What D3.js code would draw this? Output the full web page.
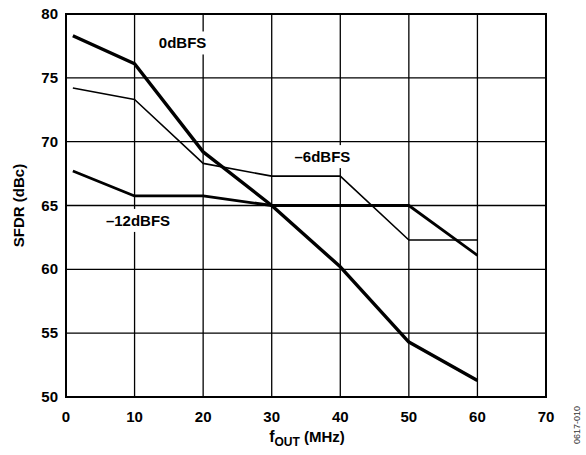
<!DOCTYPE html>
<html>
<head>
<meta charset="utf-8">
<script src="https://cdn.jsdelivr.net/npm/d3@7"></script>
<style>
  body { margin: 0; background: #fff; }
  svg { display: block; font-family: Arial, "Liberation Sans", sans-serif; }
</style>
</head>
<body>
<div id="chart"></div>
<script>
// SFDR vs fOUT, three output levels
const freqs = [1, 10, 20, 30, 40, 50, 60];
const sfdr0dB = [78.3, 76.1, 69.2, 65.0, 60.2, 54.3, 51.3];
const sfdr6dB = [74.2, 73.3, 68.3, 67.3, 67.3, 62.3, 62.3];
const sfdr12dB = [67.7, 65.75, 65.75, 65.0, 65.0, 65.0, 61.1];
const xTicks = [0, 10, 20, 30, 40, 50, 60, 70];
const yTicks = [50, 55, 60, 65, 70, 75, 80];

const width = 586, height = 455;
const margin = {left: 66, right: 40, top: 14, bottom: 58};

const svg = d3.select("#chart")
  .append("svg")
  .attr("width", width)
  .attr("height", height);

let x = d3.scaleLinear()
  .domain([0, 70])
  .range([margin.left, width - margin.right]);
let y = d3.scaleLinear()
  .domain([50, 80])
  .range([height - margin.bottom, margin.top]);

// grid
svg.append("g")
  .selectAll("line.vg")
  .data(xTicks.slice(1, -1))
  .join("line")
    .attr("x1", d => x(d)).attr("x2", d => x(d))
    .attr("y1", y(80)).attr("y2", y(50))
    .attr("stroke", "#000")
    .attr("stroke-width", 1.3);
svg.append("g")
  .selectAll("line.hg")
  .data(yTicks.slice(1, -1))
  .join("line")
    .attr("x1", x(0)).attr("x2", x(70))
    .attr("y1", d => y(d)).attr("y2", d => y(d))
    .attr("stroke", "#000")
    .attr("stroke-width", 1.3);

// frame
svg.append("rect")
  .attr("x", x(0)).attr("y", y(80))
  .attr("width", x(70) - x(0))
  .attr("height", y(50) - y(80))
  .attr("fill", "none")
  .attr("stroke", "#000")
  .attr("stroke-width", 2);

// tick labels
svg.append("g")
  .selectAll("text")
  .data(xTicks)
  .join("text")
    .attr("x", d => x(d))
    .attr("y", y(50) + 25)
    .attr("text-anchor", "middle")
    .attr("font-size", "15px")
    .attr("font-weight", "bold")
    .text(d => d);
svg.append("g")
  .selectAll("text")
  .data(yTicks)
  .join("text")
    .attr("x", x(0) - 8)
    .attr("y", d => y(d) + 5)
    .attr("text-anchor", "end")
    .attr("font-size", "15px")
    .attr("font-weight", "bold")
    .text(d => d);

// series
let line = d3.line()
  .x((d, i) => x(freqs[i]))
  .y(d => y(d));

const series = [
  {vals: sfdr6dB, w: 1.6},
  {vals: sfdr12dB, w: 2.8},
  {vals: sfdr0dB, w: 3.4}
];
svg.append("g")
  .selectAll("path")
  .data(series)
  .join("path")
    .attr("d", d => line(d.vals))
    .attr("fill", "none")
    .attr("stroke", "#000")
    .attr("stroke-width", d => d.w)
    .attr("stroke-linejoin", "round");

// curve labels with white boxes over the grid
const labels = [
  {t: "0dBFS", fx: 17, fy: 77.3},
  {t: "\u20136dBFS", fx: 37.4, fy: 68.4},
  {t: "\u201312dBFS", fx: 10.5, fy: 63.4}
];
labels.forEach(l => {
  let g = svg.append("g");
  let tx = g.append("text")
    .attr("x", x(l.fx))
    .attr("y", y(l.fy))
    .attr("text-anchor", "middle")
    .attr("font-size", "15px")
    .attr("font-weight", "bold")
    .text(l.t);
  let bb = tx.node().getBBox();
  g.insert("rect", "text")
    .attr("x", bb.x - 4).attr("y", bb.y - 3)
    .attr("width", bb.width + 8).attr("height", bb.height + 6)
    .attr("fill", "#fff");
});

// axis titles
let xt = svg.append("text")
  .attr("x", 307)
  .attr("y", height - 13)
  .attr("text-anchor", "middle")
  .attr("font-weight", "bold")
  .attr("font-size", "16px");
xt.append("tspan").text("f");
xt.append("tspan").attr("font-size", "12px").attr("dy", 4).text("OUT");
xt.append("tspan").attr("font-size", "15px").attr("dy", -4).text(" (MHz)");

svg.append("text")
  .attr("transform", `translate(24, ${(y(50) + y(80)) / 2}) rotate(-90)`)
  .attr("text-anchor", "middle")
  .attr("font-weight", "bold")
  .attr("font-size", "15px")
  .text("SFDR (dBc)");

svg.append("text")
  .attr("transform", "translate(580, 425) rotate(-90)")
  .attr("text-anchor", "middle")
  .attr("font-size", "9px")
  .attr("fill", "#333")
  .text("0617-010");
</script>
</body>
</html>
